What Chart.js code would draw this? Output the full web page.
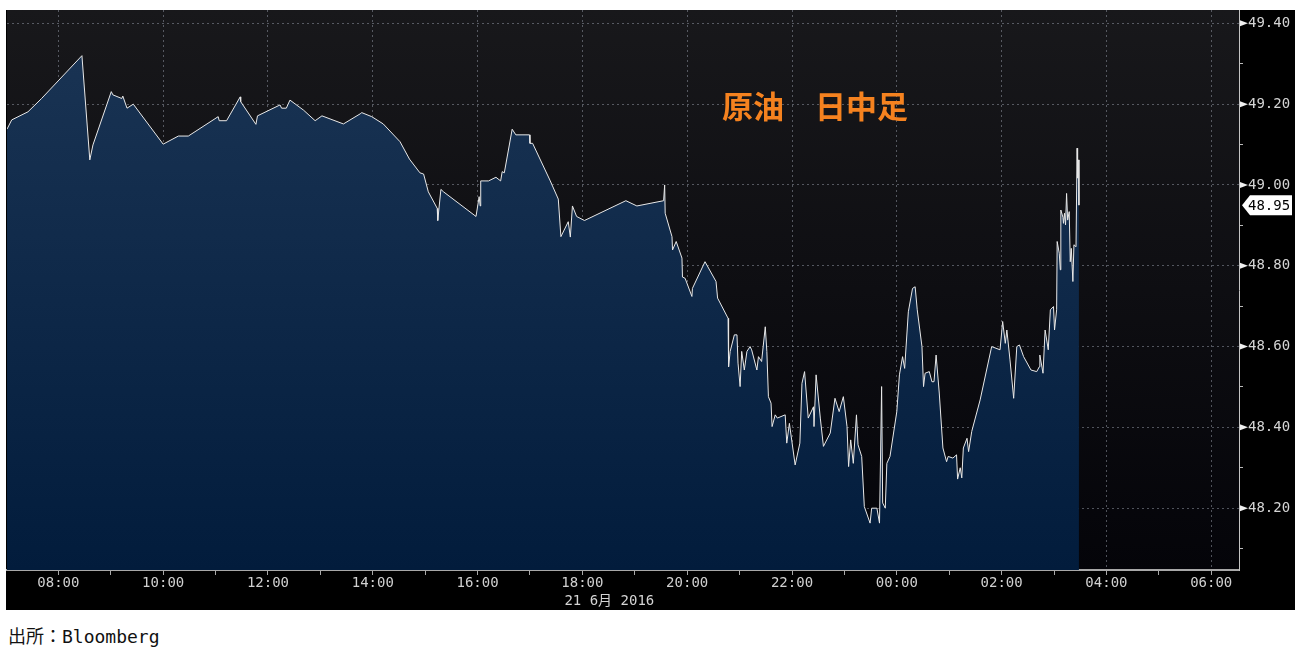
<!DOCTYPE html>
<html><head><meta charset="utf-8">
<script src="https://cdn.jsdelivr.net/npm/chart.js@4.4.1/dist/chart.umd.min.js"></script>
<style>
html,body{margin:0;padding:0;background:#fff;width:1295px;height:648px;overflow:hidden;}
#wrap{position:absolute;left:6px;top:10px;width:1289px;height:600px;background:#000;}
#src{position:absolute;left:8px;top:627px;font:18px "DejaVu Sans Mono","Noto Sans CJK JP",monospace;color:#111;white-space:nowrap;line-height:20px;}
</style></head><body>
<div id="wrap"><canvas id="c" width="1289" height="600"></canvas></div>
<div id="src">出所：Bloomberg</div>
<script>
// time in hours since 00:00 on 21 June 2016 (24 = 00:00 next day)
const times = [
 7.02,7.11,7.42,7.68,8.45,8.60,8.66,9.01,9.04,9.21,
 9.23,9.31,9.43,10.00,10.29,10.48,11.05,11.07,11.21,11.47,
 11.48,11.77,11.80,12.23,12.26,12.35,12.42,12.68,12.90,13.03,
 13.44,13.76,13.79,13.98,14.20,14.52,14.70,14.90,14.97,15.06,
 15.23,15.24,15.30,15.35,15.97,16.03,16.05,16.06,16.21,16.35,
 16.44,16.47,16.51,16.66,16.73,16.99,17.00,17.05,17.38,17.54,
 17.59,17.73,17.77,17.81,17.89,18.04,18.83,19.04,19.55,19.57,
 19.58,19.71,19.72,19.79,19.90,19.91,19.96,20.09,20.10,20.34,
 20.55,20.58,20.78,20.79,20.82,20.90,20.95,20.97,21.01,21.04,
 21.09,21.14,21.20,21.23,21.33,21.36,21.42,21.49,21.52,21.55,
 21.60,21.62,21.68,21.72,21.87,21.90,21.95,22.06,22.15,22.19,
 22.24,22.31,22.41,22.42,22.46,22.54,22.60,22.73,22.82,22.90,
 22.98,23.05,23.08,23.12,23.17,23.23,23.26,23.33,23.38,23.49,
 23.52,23.62,23.67,23.71,23.73,23.78,23.81,23.87,24.00,24.05,
 24.11,24.15,24.22,24.30,24.35,24.39,24.48,24.51,24.54,24.62,
 24.67,24.71,24.75,24.81,24.88,24.95,24.98,25.07,25.14,25.16,
 25.21,25.24,25.27,25.34,25.37,25.43,25.59,25.81,25.97,26.02,
 26.07,26.10,26.16,26.23,26.29,26.34,26.42,26.56,26.67,26.72,
 26.73,26.79,26.83,26.89,26.93,26.99,27.01,27.05,27.06,27.10,
 27.12,27.13,27.17,27.18,27.20,27.22,27.24,27.26,27.29,27.31,
 27.33,27.36,27.38,27.42,27.44,27.45,27.47,27.475
];
const prices = [
 49.138,49.161,49.181,49.214,49.320,49.062,49.099,49.231,49.223,49.214,
 49.220,49.190,49.200,49.101,49.121,49.121,49.169,49.159,49.159,49.218,
 49.206,49.150,49.171,49.198,49.190,49.190,49.210,49.185,49.159,49.171,
 49.151,49.176,49.179,49.169,49.151,49.107,49.064,49.030,49.027,48.983,
 48.942,48.912,48.989,48.983,48.922,48.971,48.948,49.010,49.010,49.019,
 49.010,49.033,49.030,49.138,49.124,49.124,49.103,49.103,49.012,48.965,
 48.872,48.909,48.871,48.948,48.922,48.912,48.961,48.948,48.961,49.000,
 48.930,48.872,48.839,48.860,48.819,48.772,48.769,48.724,48.744,48.810,
 48.761,48.720,48.670,48.550,48.588,48.629,48.629,48.559,48.501,48.588,
 48.542,48.588,48.600,48.592,48.542,48.575,48.563,48.649,48.588,48.476,
 48.460,48.402,48.431,48.423,48.431,48.361,48.410,48.307,48.361,48.509,
 48.538,48.423,48.451,48.402,48.530,48.423,48.353,48.386,48.472,48.439,
 48.476,48.402,48.303,48.369,48.311,48.431,48.357,48.328,48.204,48.163,
 48.200,48.200,48.163,48.501,48.213,48.200,48.311,48.328,48.439,48.530,
 48.575,48.546,48.686,48.744,48.748,48.691,48.600,48.501,48.534,48.538,
 48.513,48.513,48.579,48.485,48.349,48.315,48.328,48.324,48.332,48.272,
 48.300,48.275,48.349,48.373,48.340,48.390,48.468,48.600,48.592,48.662,
 48.608,48.641,48.567,48.472,48.600,48.604,48.575,48.542,48.538,48.550,
 48.579,48.534,48.641,48.592,48.691,48.699,48.641,48.691,48.860,48.831,
 48.790,48.938,48.920,48.905,48.930,48.901,48.979,48.913,48.934,48.810,
 48.843,48.761,48.852,48.847,49.091,49.017,49.062,48.950
];
const hourTicks = [8,9,10,11,12,13,14,15,16,17,18,19,20,21,22,23,24,25,26,27,28,29,30];
const priceTicks = [48.1,48.2,48.3,48.4,48.5,48.6,48.7,48.8,48.9,49.0,49.1,49.2,49.3,49.4];
const majorPriceTicks = [48.2,48.4,48.6,48.8,49.0,49.2,49.4];
const titleText = '原油\u3000日中足';
const dateText = '21 6月 2016';
const lastPrice = prices[prices.length - 1];

const MONO = '"DejaVu Sans Mono", "Noto Sans CJK JP", monospace';
const isMajorPrice = v => Math.abs(Math.round(v * 10) % 2) === 0;

const deco = {
  id: 'deco',
  beforeDraw(chart) {
    const {ctx, chartArea: a} = chart;
    const g = ctx.createLinearGradient(0, a.top, 0, a.bottom);
    g.addColorStop(0, '#18181b');
    g.addColorStop(1, '#040409');
    ctx.save();
    ctx.fillStyle = g;
    ctx.fillRect(a.left, a.top, a.right - a.left, a.bottom - a.top);
    ctx.restore();
  },
  afterDraw(chart) {
    const {ctx, chartArea: a} = chart;
    const ys = chart.scales.y, xs = chart.scales.x;
    ctx.save();
    ctx.fillStyle = '#f0f0f0';
    majorPriceTicks.forEach(v => {
      const py = ys.getPixelForValue(v);
      ctx.beginPath();
      ctx.moveTo(a.right + 1, py - 3);
      ctx.lineTo(a.right + 9, py);
      ctx.lineTo(a.right + 1, py + 3);
      ctx.closePath();
      ctx.fill();
    });
    const py = ys.getPixelForValue(lastPrice);
    const x0 = a.right + 3;
    ctx.fillStyle = '#ffffff';
    ctx.beginPath();
    ctx.moveTo(x0, py);
    ctx.lineTo(x0 + 8, py - 10);
    ctx.lineTo(x0 + 50, py - 10);
    ctx.lineTo(x0 + 50, py + 10);
    ctx.lineTo(x0 + 8, py + 10);
    ctx.closePath();
    ctx.fill();
    ctx.fillStyle = '#000';
    ctx.font = '14px ' + MONO;
    ctx.textBaseline = 'middle';
    ctx.textAlign = 'left';
    ctx.fillText(lastPrice.toFixed(2), a.right + 9, py + 1);
    ctx.fillStyle = '#d4d4d4';
    ctx.font = '14px ' + MONO;
    ctx.fillText(dateText, xs.getPixelForValue(18) - 18, a.bottom + 31);
    ctx.fillStyle = '#f5821f';
    ctx.font = 'bold 31px "Noto Sans CJK JP", "Noto Sans CJK SC", sans-serif';
    ctx.fillText(titleText, a.left + 715, a.top + 96);
    ctx.restore();
  }
};

new Chart(document.getElementById('c'), {
  type: 'line',
  data: {
    datasets: [{
      data: times.map((t, i) => ({x: t, y: prices[i]})),
      borderColor: '#e8e8e8',
      borderWidth: 1,
      pointRadius: 0,
      tension: 0,
      fill: 'start',
      backgroundColor: (ctx) => {
        const a = ctx.chart.chartArea;
        if (!a) return '#102a4a';
        const g = ctx.chart.ctx.createLinearGradient(0, a.top, 0, a.bottom);
        g.addColorStop(0, '#1b3555');
        g.addColorStop(1, '#021c3c');
        return g;
      }
    }]
  },
  options: {
    responsive: false,
    animation: false,
    layout: {padding: {left: 1, top: 0, right: 0, bottom: 0}},
    plugins: {legend: {display: false}, tooltip: {enabled: false}, title: {display: false}},
    scales: {
      x: {
        type: 'linear',
        min: 7.02,
        max: 30.53,
        z: 1,
        afterBuildTicks: s => { s.ticks = hourTicks.map(v => ({value: v})); },
        afterFit: s => { s.height = 40; s.paddingLeft = 0; s.paddingRight = 0; },
        ticks: {
          autoSkip: false, maxRotation: 0, padding: 0,
          color: '#d0d0d0',
          font: {family: MONO, size: 14},
          callback: v => (v % 2 === 0) ? String(v % 24).padStart(2, '0') + ':00' : ''
        },
        grid: {
          color: c => (c.tick && c.tick.value % 2 === 0) ? 'rgba(140,146,158,0.55)' : 'rgba(0,0,0,0)',
          tickColor: '#a8a8a8',
          tickLength: 5,
          lineWidth: 1
        },
        border: {display: true, color: '#a8a8a8', width: 2, dash: [2, 3]}
      },
      y: {
        type: 'linear',
        position: 'right',
        min: 48.047,
        max: 49.433,
        z: 1,
        afterBuildTicks: s => { s.ticks = priceTicks.map(v => ({value: v})); },
        afterFit: s => { s.width = 56; s.paddingTop = 0; s.paddingBottom = 0; },
        ticks: {
          padding: 5,
          color: '#d4d4d4',
          font: {family: MONO, size: 14},
          callback: v => isMajorPrice(v) ? v.toFixed(2) : ''
        },
        grid: {
          color: c => (c.tick && isMajorPrice(c.tick.value)) ? 'rgba(140,146,158,0.55)' : 'rgba(0,0,0,0)',
          tickColor: c => (c.tick && isMajorPrice(c.tick.value)) ? 'rgba(0,0,0,0)' : '#bbbbbb',
          tickLength: 4,
          lineWidth: 1
        },
        border: {display: true, color: '#c4c4c4', width: 1, dash: [2, 3]}
      }
    }
  },
  plugins: [deco]
});
</script>
</body></html>
